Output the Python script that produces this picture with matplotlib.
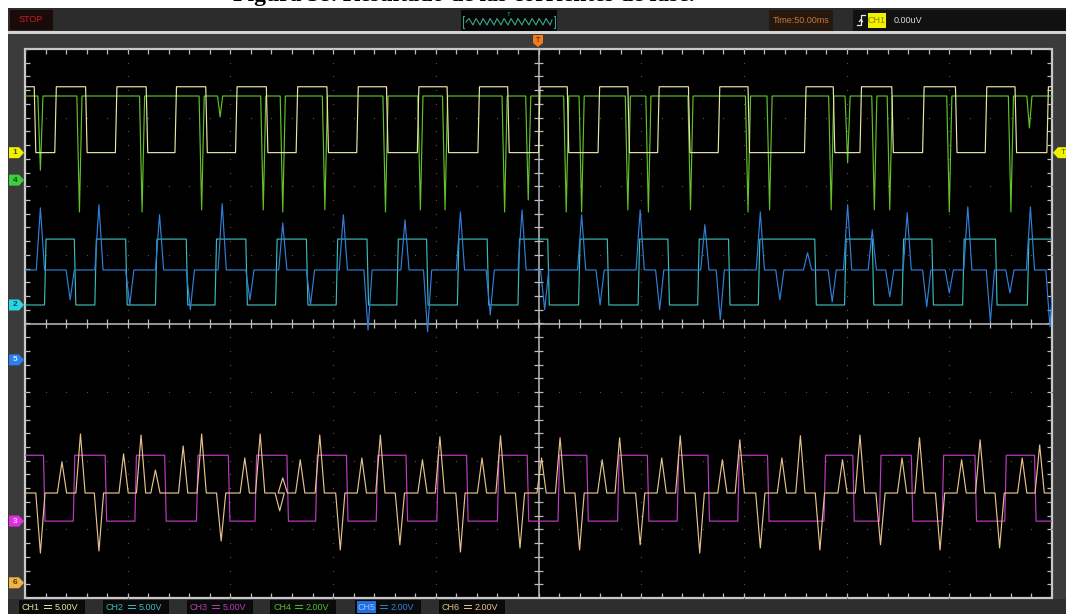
import numpy as np
import matplotlib.pyplot as plt
from matplotlib.patches import Rectangle, Polygon

W, H = 1066, 614

# channel setup: marker level (div from centre), volts/div, colours
ch_names = ['CH1', 'CH2', 'CH3', 'CH4', 'CH5', 'CH6']
ch_offset = [2.49, 0.27, -2.88, 2.09, -0.53, -3.78]
ch_vdiv = [5.0, 5.0, 5.0, 2.0, 2.0, 2.0]
ch_colors = ['#e8e5a4', '#3cbaba', '#c03ac4', '#62c02c', '#2f7fd8', '#e6c38c']

# time is in divisions from the left edge of the screen (10 div)
# square channels: edge times, level at t=0, low/high volts
ch1_edges = [0.09, 0.29, 0.59, 0.88, 1.18, 1.46, 1.76, 2.05, 2.35, 2.64, 2.94, 3.23,
             3.52, 3.82, 4.11, 4.41, 4.70, 5.00, 5.28, 5.58, 5.87, 6.16, 6.46, 6.75,
             7.04, 7.59, 7.87, 8.13, 8.44, 8.74, 9.06, 9.35, 9.64, 9.95]
ch1_start_high = True
ch2_edges = [0.19, 0.48, 0.68, 0.98, 1.27, 1.57, 1.85, 2.15, 2.44, 2.74, 3.03, 3.33,
             3.62, 3.91, 4.21, 4.50, 4.80, 5.09, 5.39, 5.67, 5.97, 6.26, 6.55, 6.85,
             7.14, 7.69, 7.98, 8.25, 8.54, 8.83, 9.13, 9.45, 9.76]
ch2_start_high = False
ch3_edges = [0.18, 0.47, 0.78, 1.07, 1.36, 1.67, 1.98, 2.24, 2.55, 2.83, 3.13, 3.42,
             3.71, 4.01, 4.30, 4.60, 4.89, 5.19, 5.47, 5.77, 6.06, 6.35, 6.65, 6.94,
             7.23, 7.78, 8.06, 8.32, 8.63, 8.93, 9.25, 9.54, 9.83]
ch3_start_high = True
sq_low = 0.0
sq_high = 4.8

# spiky channels: baseline volts and (time, peak volts) spikes
ch4_base = 2.45
ch4_spikes = [(0.15, 0.29), (0.53, -0.93), (1.14, -0.93), (1.72, -0.87), (1.90, 1.84),
              (2.32, -0.87), (2.51, -0.93), (2.92, -0.87), (3.51, -0.93), (3.85, -0.87),
              (4.09, -0.87), (4.67, -0.93), (4.90, -0.58), (5.27, -0.93), (5.42, -0.93),
              (5.87, -0.87), (6.07, -0.93), (6.48, -0.87), (7.04, -0.93), (7.25, -0.87),
              (7.85, -0.87), (8.01, 0.50), (8.27, -0.87), (8.42, -0.87), (9.00, -0.93),
              (9.60, -0.93), (9.78, 1.52)]
ch5_base = 2.62
ch5_spikes = [(0.15, 4.43), (0.44, 1.75), (0.72, 4.52), (1.02, 1.60), (1.31, 4.23),
              (1.61, 1.46), (1.92, 4.55), (2.19, 1.75), (2.51, 3.99), (2.78, 1.60),
              (3.10, 4.23), (3.34, 0.87), (3.70, 4.08), (3.92, 0.82), (4.24, 4.31),
              (4.53, 1.31), (4.84, 4.37), (5.06, 1.46), (5.42, 4.23), (5.60, 1.60),
              (5.99, 4.37), (6.18, 1.46), (6.62, 3.94), (6.77, 1.17), (7.16, 4.31),
              (7.35, 1.75), (7.62, 3.12), (7.86, 1.69), (8.01, 4.52), (8.25, 3.79),
              (8.42, 1.84), (8.59, 4.29), (8.78, 1.55), (9.00, 1.95), (9.18, 4.46),
              (9.40, 1.11), (9.59, 1.95), (9.79, 4.46), (9.98, 0.96)]
ch6_base = 2.62
ch6_spikes = [(0.15, 0.87), (0.36, 3.53), (0.54, 4.34), (0.72, 0.93), (0.96, 3.76),
              (1.13, 4.31), (1.27, 3.29), (1.54, 3.99), (1.72, 4.34), (1.91, 1.22),
              (2.14, 3.64), (2.29, 4.34), (2.48, 2.10), (2.51, 3.06), (2.68, 3.59),
              (2.87, 4.31), (3.07, 0.96), (3.28, 3.64), (3.46, 4.31), (3.65, 1.11),
              (3.87, 3.59), (4.04, 4.26), (4.24, 0.90), (4.45, 3.64), (4.63, 4.29),
              (4.82, 1.02), (5.03, 3.64), (5.21, 4.23), (5.40, 0.96), (5.62, 3.59),
              (5.79, 4.23), (5.99, 1.11), (6.20, 3.64), (6.38, 4.29), (6.57, 0.87),
              (6.79, 3.59), (6.96, 4.17), (7.16, 1.02), (7.37, 3.64), (7.55, 4.29),
              (7.74, 0.96), (7.96, 3.59), (8.13, 4.31), (8.33, 1.11), (8.54, 3.64),
              (8.71, 4.23), (8.91, 0.96), (9.12, 3.59), (9.30, 4.17), (9.49, 1.02),
              (9.71, 3.64), (9.88, 4.02)]

bottom_names = ['CH1', 'CH2', 'CH3', 'CH4', 'CH5', 'CH6']
bottom_volts = ['5.00V', '5.00V', '5.00V', '2.00V', '2.00V', '2.00V']


def square(edges, start_high):
    t, v = [0.0], [sq_high if start_high else sq_low]
    level = start_high
    for e in edges:
        t += [e, e + 0.015]
        v += [sq_high if level else sq_low, sq_low if level else sq_high]
        level = not level
    t.append(10.0)
    v.append(sq_high if level else sq_low)
    return np.array(t), np.array(v)


def spiky(base, spikes, w):
    t, v = [0.0], [base]
    for s, p in spikes:
        t += [s - w, s, s + w]
        v += [base, p, base]
    t.append(10.0)
    v.append(base)
    return np.array(t), np.array(v)


def fx(x):
    return x / W


def fy(y):
    return 1 - y / H


fig = plt.figure(figsize=(W / 100, H / 100), dpi=100)
fig.patch.set_facecolor('white')


def box(x0, y0, x1, y1, fc, z=-5):
    fig.patches.append(Rectangle((fx(x0), fy(y1)), fx(x1) - fx(x0), fy(y0) - fy(y1),
                                 transform=fig.transFigure, facecolor=fc, edgecolor='none',
                                 zorder=z))


def fline(xs, ys, color, lw=0.8):
    fig.lines.append(plt.Line2D([fx(x) for x in xs], [fy(y) for y in ys],
                                transform=fig.transFigure, color=color, lw=lw, zorder=5))


# partly cropped caption above the screenshot
fig.text(fx(464), fy(1.5), 'Figura 38. Resultado de las corrientes de fase.',
         ha='center', va='baseline', fontsize=17, fontweight='bold',
         family='Liberation Serif', color='black')

# scope body, toolbar, separator, bottom bar
box(8, 8, 1066, 614, '#3b3b3b', -10)
box(8, 8, 1066, 31, '#2c2c2c', -9)
box(8, 31, 1066, 33.5, '#d2d2d2', -9)
box(8, 599, 1066, 614, '#2e2e2e', -9)

ui = dict(family=['Liberation Sans', 'DejaVu Sans'], va='center')
box(10, 10, 53, 30, '#1a0b0b')
fig.text(fx(31), fy(20), 'STOP', ha='center', fontsize=6.5, color='#c42020', **ui)

box(461, 10, 557, 31, '#050505')
fig.text(fx(509), fy(14), 'T', ha='center', fontsize=4.5, color='#3aa58c', **ui)
fline([466, 469, 473, 476, 480, 483, 487, 490, 494, 497, 501, 504, 508, 511, 515, 518,
       522, 525, 529, 532, 536, 539, 543, 546, 550, 552],
      [22, 18.5, 25, 18.5, 25, 18.5, 25, 18.5, 25, 18.5, 25, 18.5, 25, 18.5, 25, 18.5,
       25, 18.5, 25, 18.5, 25, 18.5, 25, 18.5, 25, 20], '#3aa58c')
fline([464, 463, 463, 464], [16, 16, 28, 28], '#3aa58c')
fline([554, 555, 555, 554], [16, 16, 28, 28], '#3aa58c')

box(769, 10, 833, 31, '#24180f')
fig.text(fx(801), fy(20.5), 'Time:50.00ms', ha='center', fontsize=6.5, color='#c8783a', **ui)

box(853, 10, 1066, 31, '#111111')
# rising-edge trigger icon
fline([857, 861, 861, 865], [25, 25, 15, 15], '#e8e8e8', 0.9)
fline([859.5, 861, 862.5], [21.5, 19.5, 21.5], '#e8e8e8', 0.9)
box(868, 13, 886, 28, '#f2f200', 2)
fig.text(fx(877), fy(20.5), 'CH1', ha='center', fontsize=6.5, color='#8a8a00', **ui)
fig.text(fx(894), fy(20.5), '0.00uV', ha='left', fontsize=6.5, color='#d8d8d8', **ui)

# screen
ax = fig.add_axes([fx(25), fy(598), fx(1052) - fx(25), fy(49) - fy(598)])
ax.set_facecolor('black')
ax.set_xlim(0, 10)
ax.set_ylim(-4, 4)
ax.axis('off')
ax.add_patch(Rectangle((0, -4), 10, 8, facecolor='black', edgecolor='#c8c8c8', lw=1.6,
                       zorder=0, clip_on=False))

minor = np.arange(0, 10.01, 0.2)
minor_y = np.arange(-4, 4.01, 0.2)
gx = [x for x in range(1, 10) if x != 5]
gy = [y for y in range(-3, 4) if y != 0]
ax.scatter(np.repeat(gx, len(minor_y)), np.tile(minor_y, len(gx)), s=0.7, color='#5e5e5e',
           lw=0, zorder=1)
ax.scatter(np.tile(minor, len(gy)), np.repeat(gy, len(minor)), s=0.7, color='#5e5e5e',
           lw=0, zorder=1)
ax.axhline(0, color='#bdbdbd', lw=1.1, zorder=1)
ax.axvline(5, color='#bdbdbd', lw=1.1, zorder=1)
ax.vlines(minor, -0.07, 0.07, color='#bdbdbd', lw=0.9, zorder=1)
ax.hlines(minor_y, 4.955, 5.045, color='#bdbdbd', lw=0.9, zorder=1)
ax.vlines(minor, 3.93, 4, color='#bdbdbd', lw=0.9, zorder=1)
ax.vlines(minor, -4, -3.93, color='#bdbdbd', lw=0.9, zorder=1)
ax.hlines(minor_y, 0, 0.05, color='#bdbdbd', lw=0.9, zorder=1)
ax.hlines(minor_y, 9.95, 10, color='#bdbdbd', lw=0.9, zorder=1)

traces = [square(ch1_edges, ch1_start_high), square(ch2_edges, ch2_start_high),
          square(ch3_edges, ch3_start_high), spiky(ch4_base, ch4_spikes, 0.025),
          spiky(ch5_base, ch5_spikes, 0.04), spiky(ch6_base, ch6_spikes, 0.045)]
order = [3, 0, 1, 4, 2, 5]
for i in order:
    t, v = traces[i]
    ax.plot(t, ch_offset[i] + v / ch_vdiv[i], color=ch_colors[i], lw=0.85, zorder=3)

# trigger marker on top
trig = Polygon([(fx(533), fy(35)), (fx(543), fy(35)), (fx(543), fy(43)), (fx(538), fy(47)),
                (fx(533), fy(43))], closed=True, transform=fig.transFigure,
               facecolor='#f07a1e', edgecolor='none', zorder=3)
fig.patches.append(trig)
fig.text(fx(538), fy(40), 'T', ha='center', fontsize=5, color='#3a1a00', **ui)

# channel markers on the left
marker_fc = ['#f2f200', '#2ad6e6', '#e22ee2', '#3ccf3c', '#2a7ef0', '#f0b445']
marker_tc = ['#555500', '#0a4a55', '#fbd0fb', '#0a550a', '#d8e8ff', '#553a00']
for i in range(6):
    yc = 323.5 - ch_offset[i] * 68.6
    poly = Polygon([(fx(9), fy(yc - 5.5)), (fx(19), fy(yc - 5.5)), (fx(24), fy(yc)),
                    (fx(19), fy(yc + 5.5)), (fx(9), fy(yc + 5.5))], closed=True,
                   transform=fig.transFigure, facecolor=marker_fc[i], edgecolor='none',
                   zorder=3)
    fig.patches.append(poly)
    fig.text(fx(15), fy(yc), ch_names[i][-1], ha='center', fontsize=6, fontweight='bold',
             color=marker_tc[i], **ui)

# trigger level marker on the right
yc = 323.5 - ch_offset[0] * 68.6
fig.patches.append(Polygon([(fx(1053), fy(yc)), (fx(1058), fy(yc - 5.5)),
                            (fx(1066), fy(yc - 5.5)), (fx(1066), fy(yc + 5.5)),
                            (fx(1058), fy(yc + 5.5))], closed=True,
                           transform=fig.transFigure, facecolor='#f2f200', edgecolor='none',
                           zorder=3))
fig.text(fx(1063), fy(yc), 'T', ha='center', fontsize=5.5, color='#555500', **ui)

# bottom channel labels; the DC coupling sign is drawn as a small line over dashes
label_x = [22, 106, 190, 273, 358, 442]
label_c = ['#e6e39a', '#3cbcbc', '#b53ab8', '#4cc02a', '#2f7fd8', '#e6c38c']
for i in range(6):
    x0 = label_x[i]
    box(x0 - 3, 600, x0 + 63, 614, '#0a0a0a', -8)
    if i == 4:
        box(x0 - 1, 601, x0 + 18, 613, '#1f6fe0', -7)
        fig.text(fx(x0), fy(607), bottom_names[i], ha='left', fontsize=6.5,
                 color='#8fc0ff', **ui)
    else:
        fig.text(fx(x0), fy(607), bottom_names[i], ha='left', fontsize=6.5,
                 color=label_c[i], **ui)
    fline([x0 + 22, x0 + 29], [605, 605], label_c[i], 0.7)
    fline([x0 + 22, x0 + 24], [608, 608], label_c[i], 0.7)
    fline([x0 + 25, x0 + 26.5], [608, 608], label_c[i], 0.7)
    fline([x0 + 27.5, x0 + 29], [608, 608], label_c[i], 0.7)
    fig.text(fx(x0 + 33), fy(607), bottom_volts[i], ha='left', fontsize=6.5,
             color=label_c[i], **ui)

fig.savefig('out.png', dpi=100, facecolor=fig.get_facecolor())
